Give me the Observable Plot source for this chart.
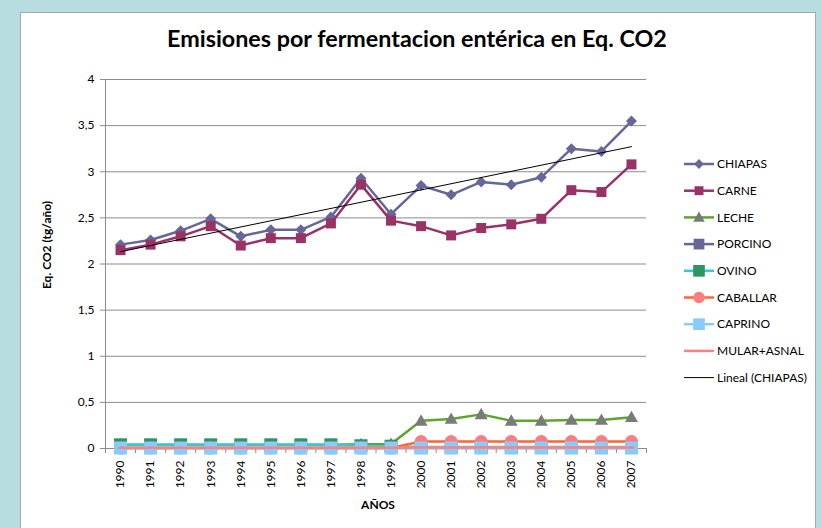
<!DOCTYPE html>
<html><head><meta charset="utf-8">
<script src="https://cdn.jsdelivr.net/npm/d3@7"></script>
<script src="https://cdn.jsdelivr.net/npm/@observablehq/plot@0.6"></script>
<style>
html,body{margin:0;padding:0;background:#b7dde0;overflow:hidden;}
#chart{position:absolute;left:0;top:0;}
</style></head><body><div id="chart"></div>
<script>
// ---- data ----
const years = [1990,1991,1992,1993,1994,1995,1996,1997,1998,1999,2000,2001,2002,2003,2004,2005,2006,2007];
const yTicks = [0,0.5,1,1.5,2,2.5,3,3.5,4];
const chiapas  = [2.21,2.26,2.36,2.49,2.30,2.37,2.37,2.51,2.93,2.54,2.85,2.75,2.89,2.86,2.94,3.25,3.22,3.55];
const carne    = [2.15,2.21,2.30,2.41,2.20,2.28,2.28,2.44,2.86,2.47,2.41,2.31,2.39,2.43,2.49,2.80,2.78,3.08];
const leche    = [0.04,0.04,0.04,0.04,0.04,0.04,0.04,0.04,0.045,0.05,0.30,0.32,0.37,0.30,0.30,0.31,0.31,0.34];
const porcino  = [0.005,0.005,0.005,0.005,0.005,0.005,0.005,0.005,0.005,0.005,0.005,0.005,0.005,0.005,0.005,0.005,0.005,0.005];
const ovino    = [0.04,0.04,0.04,0.04,0.04,0.04,0.04,0.04,0.03,0.025,0.015,0.015,0.015,0.015,0.015,0.015,0.015,0.015];
const caballar = [0.005,0.005,0.005,0.005,0.005,0.005,0.005,0.005,0.005,0.005,0.075,0.075,0.075,0.075,0.075,0.075,0.075,0.075];
const caprino  = [0.005,0.005,0.005,0.005,0.005,0.005,0.005,0.005,0.005,0.005,0.005,0.005,0.005,0.005,0.005,0.005,0.005,0.005];
const mular    = [0.007,0.007,0.007,0.007,0.007,0.007,0.007,0.007,0.007,0.007,0.01,0.01,0.01,0.01,0.01,0.01,0.01,0.01];
const seriesNames = ["CHIAPAS","CARNE","LECHE","PORCINO","OVINO","CABALLAR","CAPRINO","MULAR+ASNAL"];
const trendLabel = "Lineal (CHIAPAS)";
const titleText = "Emisiones por fermentacion entérica en Eq. CO2";
const xLabel = "AÑOS";
const yLabel = "Eq. CO2 (tg/año)";

// ---- custom symbols (r = half size) ----
const half = size => Math.sqrt(size / Math.PI);
const symDiamond = {draw(c, s){const h=half(s); c.moveTo(0,-h); c.lineTo(h,0); c.lineTo(0,h); c.lineTo(-h,0); c.closePath();}};
const symSquare  = {draw(c, s){const h=half(s); c.rect(-h,-h,2*h,2*h);}};
const symTri     = {draw(c, s){const h=half(s); c.moveTo(0,-h); c.lineTo(h,h*0.75); c.lineTo(-h,h*0.75); c.closePath();}};
const symCircle  = {draw(c, s){const h=half(s); c.moveTo(h,0); c.arc(0,0,h,0,2*Math.PI);}};
const symDash    = {draw(c, s){const h=half(s); c.moveTo(-h,0); c.lineTo(h,0);}};

const styles = {
  "CHIAPAS":     {values: chiapas,  line:"#666699", sym:symDiamond, r:5.5, fill:"#666699"},
  "CARNE":       {values: carne,    line:"#993366", sym:symSquare,  r:5,   fill:"#993366"},
  "LECHE":       {values: leche,    line:"#5ea52e", sym:symTri,     r:6.5, fill:"#7a7a7a"},
  "PORCINO":     {values: porcino,  line:"#666699", sym:symSquare,  r:6,   fill:"#666699"},
  "OVINO":       {values: ovino,    line:"#33cccc", sym:symSquare,  r:6.5, fill:"#2f9560"},
  "CABALLAR":    {values: caballar, line:"#ff6633", sym:symCircle,  r:6.5, fill:"#ff7c80"},
  "CAPRINO":     {values: caprino,  line:"#88ccff", sym:symSquare,  r:6.5, fill:"#88ccff"},
  "MULAR+ASNAL": {values: mular,    line:"#ff8080", sym:symDash,    r:3,   fill:"none", stroke:"#ff8080"}
};

const rows = [];
seriesNames.forEach(n => styles[n].values.forEach((v,i) => rows.push({serie:n, year:years[i], value:v})));
const chiapasRows = rows.filter(d => d.serie === "CHIAPAS");
const boundaries = years.map(y => y - 0.5).concat([years[years.length-1] + 0.5]);

const font = "Lato, 'Open Sans', sans-serif";
const grid = "#8c8c8c";

const marks = [
  Plot.gridY({ticks: yTicks, stroke: grid, strokeOpacity: 1}),
  Plot.ruleY([0], {stroke: grid}),
  Plot.ruleX([boundaries[0]], {stroke: grid}),
  Plot.axisY({ticks: yTicks, tickSize: 5, stroke: grid, tickFormat: () => "", label: null}),
  Plot.axisY({ticks: yTicks, tickSize: 0, tickPadding: 11, fill: "#000", fontSize: 12, tickFormat: d => String(d).replace(".", ","), label: null}),
  Plot.axisX({ticks: boundaries, tickSize: 5, stroke: grid, tickFormat: () => "", label: null}),
  Plot.axisX({ticks: years, tickSize: 0, tickPadding: 12, tickRotate: -90, fill: "#000", fontSize: 12, tickFormat: d => String(d), label: null})
];
seriesNames.forEach(n => {
  const s = styles[n];
  const d = rows.filter(r => r.serie === n);
  marks.push(Plot.line(d, {x: "year", y: "value", stroke: s.line, strokeWidth: 2.5}));
  marks.push(Plot.dot(d, {x: "year", y: "value", symbol: s.sym, r: s.r, fill: s.fill, stroke: s.stroke || "none", strokeWidth: 2}));
});
marks.push(Plot.linearRegressionY(chiapasRows, {x: "year", y: "value", stroke: "#000", strokeWidth: 1, ci: 0}));

const chart = Plot.plot({
  width: 821, height: 528,
  marginLeft: 105, marginRight: 175, marginTop: 79, marginBottom: 80,
  style: {background: "transparent", fontFamily: font},
  x: {type: "linear", domain: [boundaries[0], boundaries[boundaries.length-1]]},
  y: {domain: [0, 4]},
  marks
});

const svg = d3.select(chart);
// white panel behind
svg.insert("rect", ":first-child").attr("x", 20.5).attr("y", 12.5).attr("width", 795).attr("height", 530)
  .attr("fill", "#fff").attr("stroke", "#a8a8a8");

svg.append("text").attr("x", 417).attr("y", 47).attr("text-anchor", "middle")
  .attr("font-family", font).attr("font-weight", "bold").attr("font-size", 23.3).attr("fill", "#000").text(titleText);
svg.append("text").attr("x", 378).attr("y", 509).attr("text-anchor", "middle")
  .attr("font-family", font).attr("font-weight", "bold").attr("font-size", 12).attr("fill", "#000").text(xLabel);
svg.append("text").attr("transform", "translate(51,245) rotate(-90)").attr("text-anchor", "middle")
  .attr("font-family", font).attr("font-weight", "bold").attr("font-size", 12).attr("fill", "#000").text(yLabel);

// legend
const legendItems = seriesNames.map(n => ({name: n, ...styles[n]})).concat([{name: trendLabel, line: "#000", lw: 1}]);
const lg = svg.append("g").attr("font-family", font).attr("font-size", 12).attr("text-anchor", "start");
legendItems.forEach((it, i) => {
  const y = 164 + i * 26.7;
  lg.append("line").attr("x1", 684).attr("x2", 714).attr("y1", y).attr("y2", y)
    .attr("stroke", it.line).attr("stroke-width", it.lw || 2.5);
  if (it.sym) {
    lg.append("path").attr("transform", `translate(699,${y})`)
      .attr("d", d3.symbol(it.sym, Math.PI * it.r * it.r * 0.8)())
      .attr("fill", it.fill).attr("stroke", it.stroke || "none").attr("stroke-width", 2);
  }
  lg.append("text").attr("x", 717).attr("y", y).attr("dy", "0.35em").attr("text-anchor", "start").attr("fill", "#000").text(it.name);
});

document.getElementById("chart").appendChild(chart);
</script></body></html>
